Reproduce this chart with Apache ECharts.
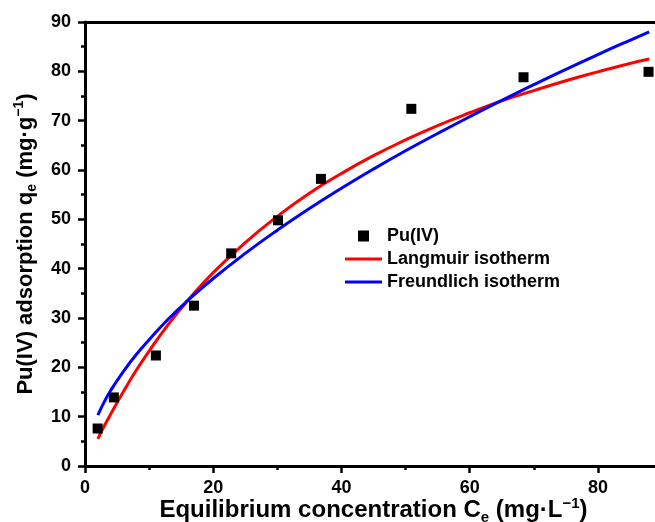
<!DOCTYPE html>
<html>
<head>
<meta charset="utf-8">
<script src="https://cdn.jsdelivr.net/npm/echarts@6/dist/echarts.min.js"></script>
<style>
html,body{margin:0;padding:0;background:#fff;}
#chart{width:655px;height:522px;}
</style>
</head>
<body>
<div id="chart"></div>
<script>
// Experimental data: Pu(IV)
var ceData = [1.97, 4.5, 11.06, 17.0, 22.8, 30.1, 36.8, 50.9, 68.4, 87.9];
var qeData = [7.6, 13.9, 22.4, 32.5, 43.1, 49.8, 58.2, 72.4, 78.8, 79.9];

// Fitted curves
var curveCe = [2, 3, 4, 6, 8, 10, 13, 16, 20, 25, 30, 35, 40, 45, 50, 55, 60, 65, 70, 75, 80, 85, 88];
var langmuirQe = [5.5, 8.1, 10.5, 15.1, 19.4, 23.3, 28.7, 33.5, 39.2, 45.3, 50.6, 55.3, 59.3, 62.9, 66.1, 69.0, 71.6, 74.0, 76.1, 78.1, 79.9, 81.6, 82.5];
var freundlichQe = [10.3, 13.0, 15.3, 19.2, 22.6, 25.6, 29.8, 33.5, 38.0, 43.1, 47.8, 52.2, 56.3, 60.2, 63.9, 67.4, 70.8, 74.1, 77.3, 80.4, 83.4, 86.3, 88.0];

var seriesNames = ['Pu(IV)', 'Langmuir isotherm', 'Freundlich isotherm'];
var xTicks = {min: 0, max: 90, interval: 20};
var yTicks = {min: 0, max: 90, interval: 10};

function pairs(xs, ys) { return xs.map(function (x, i) { return [x, ys[i]]; }); }

var FONT = '"Liberation Sans", Arial, sans-serif';
function richSet(size) {
  var s = Math.round(size * 0.62);
  return {
    b: {fontFamily: FONT, fontWeight: 'bold', fontSize: size, color: '#000'},
    sub: {fontFamily: FONT, fontWeight: 'bold', fontSize: s, color: '#000', padding: [Math.round(size * 0.58), 0, 0, 0], verticalAlign: 'bottom'},
    sup: {fontFamily: FONT, fontWeight: 'bold', fontSize: s, color: '#000', padding: [0, 0, Math.round(size * 0.5), 0], verticalAlign: 'top'}
  };
}

var SQUARE_ICON = 'path://M0,0 L10,0 L10,10 L0,10 Z';
var LINE_ICON = 'path://M0,0 L37,0 L37,3 L0,3 Z';

var chart = echarts.init(document.getElementById('chart'), null, {renderer: 'canvas'});
chart.setOption({
  backgroundColor: '#fff',
  animation: false,
  grid: {left: 85, top: 22, width: 577, height: 444, containLabel: false, outerBoundsMode: 'none'},
  legend: {
    orient: 'vertical', left: 340, top: 222,
    itemWidth: 37, itemHeight: 11, itemGap: 5,
    symbolKeepAspect: true,
    textStyle: {fontFamily: FONT, fontWeight: 'bold', fontSize: 18, color: '#000'},
    data: [
      {name: seriesNames[0], icon: SQUARE_ICON},
      {name: seriesNames[1], icon: LINE_ICON},
      {name: seriesNames[2], icon: LINE_ICON}
    ]
  },
  xAxis: [{
    type: 'value', min: xTicks.min, max: xTicks.max, interval: xTicks.interval,
    position: 'bottom',
    name: '{b|Equilibrium concentration C}{sub|e}{b| (mg·L}{sup|−1}{b|)}',
    nameLocation: 'middle', nameGap: 30, nameMoveOverlap: false,
    nameTextStyle: {rich: richSet(24)},
    axisLine: {show: true, onZero: false, lineStyle: {color: '#000', width: 3}},
    axisTick: {show: true, inside: false, length: 7, lineStyle: {color: '#000', width: 2.5}},
    minorTick: {show: true, splitNumber: 2, length: 4, lineStyle: {color: '#000', width: 2.5}},
    splitLine: {show: false},
    axisLabel: {fontFamily: FONT, fontWeight: 'bold', fontSize: 18, color: '#000', margin: 13, showMaxLabel: false}
  }, {
    type: 'value', min: xTicks.min, max: xTicks.max, position: 'top',
    axisLine: {show: true, onZero: false, lineStyle: {color: '#000', width: 3}},
    axisTick: {show: false}, axisLabel: {show: false}, splitLine: {show: false}
  }],
  yAxis: {
    type: 'value', min: yTicks.min, max: yTicks.max, interval: yTicks.interval,
    name: '{b|Pu(IV) adsorption q}{sub|e}{b| (mg·g}{sup|−1}{b|)}',
    nameLocation: 'middle', nameGap: 46, nameRotate: 90, nameMoveOverlap: false,
    nameTextStyle: {rich: richSet(22)},
    axisLine: {show: true, onZero: false, lineStyle: {color: '#000', width: 3}},
    axisTick: {show: true, inside: false, length: 7, lineStyle: {color: '#000', width: 2.5}},
    minorTick: {show: true, splitNumber: 2, length: 4, lineStyle: {color: '#000', width: 2.5}},
    splitLine: {show: false},
    axisLabel: {fontFamily: FONT, fontWeight: 'bold', fontSize: 18, color: '#000', margin: 14}
  },
  series: [{
    name: seriesNames[0], type: 'scatter', xAxisIndex: 0,
    symbol: 'rect', symbolSize: 10,
    itemStyle: {color: '#000', opacity: 1},
    data: pairs(ceData, qeData), z: 3
  }, {
    name: seriesNames[1], type: 'line', xAxisIndex: 0,
    smooth: true, showSymbol: false, symbol: 'none',
    lineStyle: {color: '#ff0000', width: 3}, itemStyle: {color: '#ff0000'},
    data: pairs(curveCe, langmuirQe)
  }, {
    name: seriesNames[2], type: 'line', xAxisIndex: 0,
    smooth: true, showSymbol: false, symbol: 'none',
    lineStyle: {color: '#0000ff', width: 3}, itemStyle: {color: '#0000ff'},
    data: pairs(curveCe, freundlichQe)
  }]
});
</script>
</body>
</html>
